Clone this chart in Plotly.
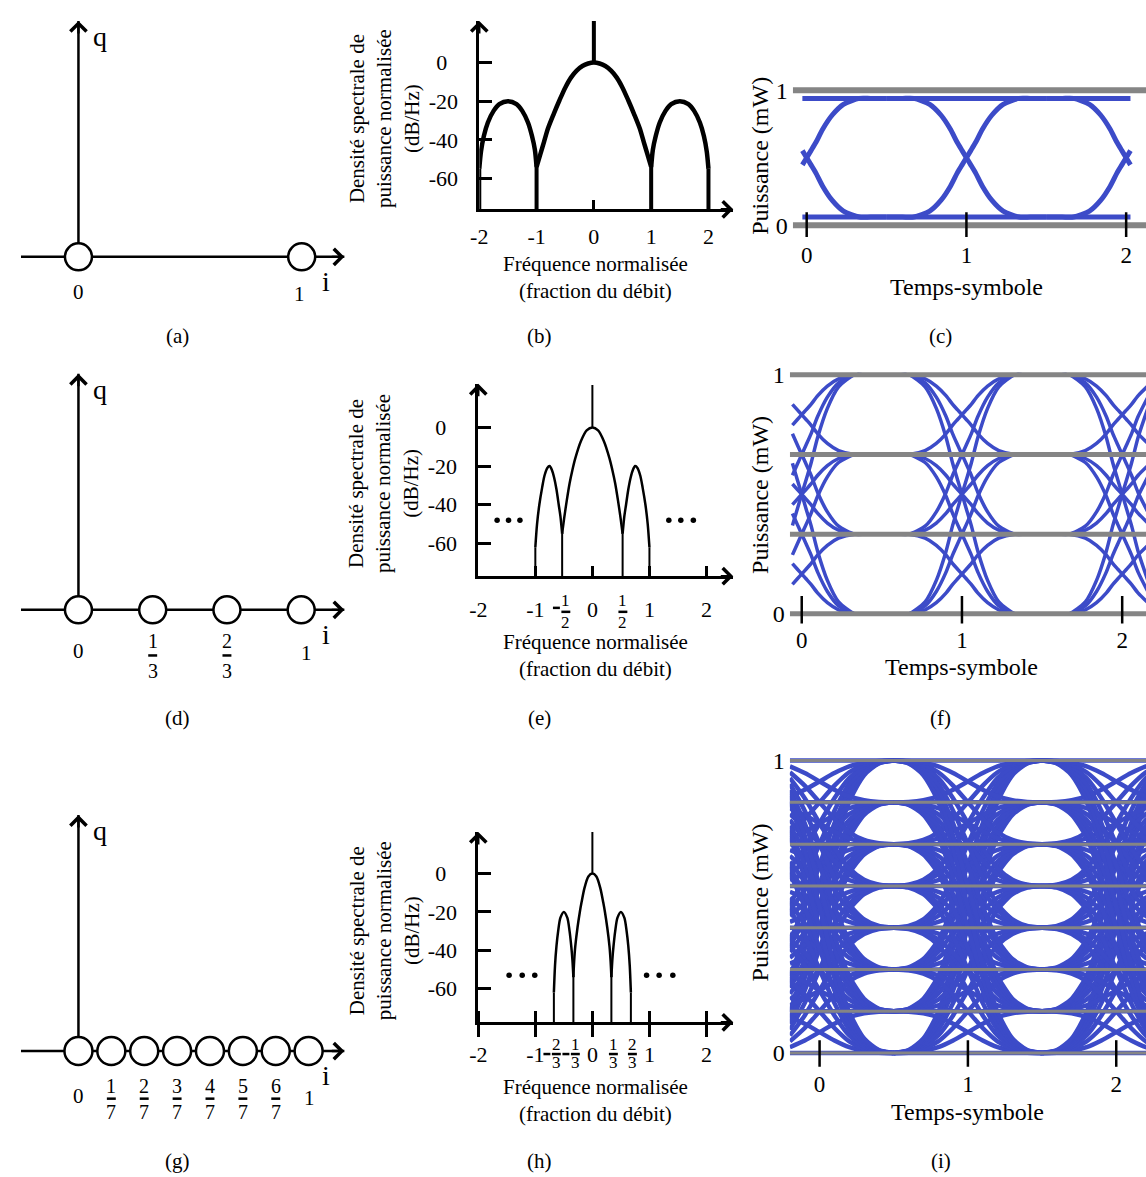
import plotly.graph_objects as go

W, H = 1146, 1177
SERIF = "Liberation Serif"
BLUE = "#3c4bc8"
GRAY = "#858585"

# ---------------- data ----------------
# constellations (i axis)
const_a = [0, 1]
const_d = [0, 1/3, 2/3, 1]
const_g = [0, 1/7, 2/7, 3/7, 4/7, 5/7, 6/7, 1]

# power spectral densities (dB): right half of main lobe and first side lobe
b_main_f = [0, 0.1, 0.2, 0.3, 0.4, 0.5, 0.6, 0.7, 0.8, 0.87, 0.93, 0.97, 1.0]
b_main_db = [0, -0.5, -1.8, -4.2, -7.8, -13, -19.5, -26.5, -34, -41, -47, -51, -54]
b_side_f = [1.0, 1.03, 1.08, 1.15, 1.25, 1.35, 1.5, 1.65, 1.75, 1.85, 1.92, 1.97, 2.0]
b_side_db = [-54, -45, -38, -31, -25, -21.5, -20, -21.5, -25, -31, -38, -46, -55]

e_main_f = [0, 0.1, 0.2, 0.3, 0.35, 0.4, 0.45, 0.49, 0.53]
e_main_db = [0, -1.5, -7, -16, -22, -29, -38, -46, -55]
e_side_f = [0.53, 0.56, 0.59, 0.63, 0.67, 0.71, 0.75, 0.79, 0.84, 0.88, 0.93, 0.97, 1.0]
e_side_db = [-55, -46, -40, -32, -26, -22, -20, -21, -25, -31, -40, -50, -62]

h_main_f = [0, 0.07, 0.14, 0.19, 0.22, 0.26, 0.3, 0.32, 0.333]
h_main_db = [0, -1.5, -7.7, -15, -20, -28, -38, -46, -54]
h_side_f = [0.333, 0.35, 0.37, 0.4, 0.44, 0.5, 0.56, 0.6, 0.63, 0.655, 0.675]
h_side_db = [-54, -45, -38, -30, -23, -20, -23, -30, -38, -48, -62]

psd_floor_db = -80
spike_db = [0, 22]
psd_ytick_vals = [0, -20, -40, -60]
psd_ytick_text = ["0\u2002", "-20", "-40", "-60"]
psd_xtick_vals = [-2, -1, 0, 1, 2]
psd_xtick_text = ["-2", "-1", "0", "1", "2"]
e_fracs = [(-1, 1, 2), (1, 1, 2)]
h_fracs = [(-1, 2, 3), (-1, 1, 3), (1, 1, 3), (1, 2, 3)]
e_dots_f = [-1.67, -1.47, -1.27, 1.34, 1.55, 1.77]
e_dots_db = -48
h_dots_f = [-1.46, -1.23, -1.01, 0.95, 1.17, 1.41]
h_dots_db = -53

# eye diagrams
eye_levels_c = [0.06, 0.94]
eye_levels_f = [0, 1/3, 2/3, 1]
eye_levels_i = [0, 1/7, 2/7, 3/7, 4/7, 5/7, 6/7, 1]
grid_c = [0, 1]
grid_f = [0, 1/3, 2/3, 1]
grid_i = [0, 1/7, 2/7, 3/7, 4/7, 5/7, 6/7, 1]
edge_u = [-0.5, -0.4, -0.33, -0.23, -0.16, -0.1, -0.058, -0.027, 0.0,
          0.027, 0.058, 0.1, 0.16, 0.23, 0.33, 0.4, 0.5]
edge_p = [0.0, 0.0, 0.0, 0.05, 0.14, 0.26, 0.37, 0.44, 0.5,
          0.56, 0.63, 0.74, 0.86, 0.95, 1.0, 1.0, 1.0]
edge_u_i = [-0.5, -0.4, -0.3, -0.2, -0.1, 0.0, 0.1, 0.2, 0.3, 0.4, 0.5]
edge_p_i = [0.0, 0.01, 0.05, 0.14, 0.3, 0.5, 0.7, 0.86, 0.95, 0.99, 1.0]
span_c = (-0.027, 2.027)
span_f = (-0.058, 2.2)
span_i = (-0.2, 2.3)
symbol_ticks = [0, 1, 2]
symbol_text = ["0", "1", "2"]

# ---------------- layout geometry (pixels) ----------------
geo = {
    1: dict(xd=(12, 345), yd=(8, 305), xm=(0, 70, 1, 295), ym=(0, 250, 1, 12)),
    2: dict(xd=(474, 730), yd=(12, 202), xm=(-2, 474, 2, 705), ym=(0, 54, -60, 171)),
    3: dict(xd=(790, 1146), yd=(76, 231), xm=(0, 804, 2, 1126), ym=(0, 218, 1, 82)),
    4: dict(xd=(12, 345), yd=(360, 690), xm=(0, 70, 1, 294.5), ym=(0, 606, 1, 368)),
    5: dict(xd=(473, 730), yd=(378, 572), xm=(-2, 473, 2, 703), ym=(0, 422, -60, 539)),
    6: dict(xd=(787, 1146), yd=(362, 622), xm=(0, 799, 2, 1122), ym=(0, 610, 1, 369)),
    7: dict(xd=(12, 345), yd=(805, 1130), xm=(0, 70, 1, 302), ym=(0, 1051, 1, 813)),
    8: dict(xd=(473, 730), yd=(830, 1022), xm=(-2, 473, 2, 703), ym=(0, 872, -60, 988)),
    9: dict(xd=(787, 1146), yd=(754, 1068), xm=(0, 817, 2, 1116), ym=(0, 1053, 1, 758)),
}


def val(m, p):
    v1, p1, v2, p2 = m
    return v1 + (p - p1) * (v2 - v1) / (p2 - p1)


def pix(m, v):
    v1, p1, v2, p2 = m
    return p1 + (v - v1) * (p2 - p1) / (v2 - v1)


def names(k):
    return ("xaxis" if k == 1 else f"xaxis{k}", "yaxis" if k == 1 else f"yaxis{k}")


def refs(k):
    return ("x" if k == 1 else f"x{k}", "y" if k == 1 else f"y{k}")


fig = go.Figure()
layout = dict(width=W, height=H, margin=dict(l=0, r=0, t=0, b=0),
              paper_bgcolor="white", plot_bgcolor="rgba(0,0,0,0)", showlegend=False)
annotations = []
shapes = []


def xrange_of(k):
    g = geo[k]
    return [val(g["xm"], g["xd"][0]), val(g["xm"], g["xd"][1])]


def yrange_of(k):
    g = geo[k]
    return [val(g["ym"], g["yd"][1]), val(g["ym"], g["yd"][0])]


def set_axes(k, xextra, yextra):
    g = geo[k]
    xn, yn = names(k)
    xr, yr = refs(k)
    layout[xn] = dict(domain=[g["xd"][0] / W, g["xd"][1] / W], range=xrange_of(k), anchor=yr,
                      showgrid=False, zeroline=False, fixedrange=True, **xextra)
    layout[yn] = dict(domain=[1 - g["yd"][1] / H, 1 - g["yd"][0] / H], range=yrange_of(k), anchor=xr,
                      showgrid=False, zeroline=False, fixedrange=True, **yextra)


def txt(px, py, s, size, angle=0):
    return dict(x=px / W, y=1 - py / H, xref="paper", yref="paper", text=s, showarrow=False,
                textangle=angle, xanchor="center", yanchor="middle",
                font=dict(family=SERIF, size=size, color="black"))


def hline(px0, px1, py, w=2.5):
    shapes.append(dict(type="line", xref="paper", yref="paper", x0=px0 / W, x1=px1 / W,
                       y0=1 - py / H, y1=1 - py / H, line=dict(color="black", width=w)))


def frac(cx, y_num, y_bar, y_den, num, den, size, neg=False, minus_y=None):
    annotations.append(txt(cx, y_num, str(num), size))
    annotations.append(txt(cx, y_den, str(den), size))
    hline(cx - 4.5, cx + 4.5, y_bar)
    if neg:
        my = y_bar if minus_y is None else minus_y
        hline(cx - 13, cx - 6, my)


def arrow(xref, yref, x, y, ax, ay):
    annotations.append(dict(x=x, y=y, xref=xref, yref=yref, ax=ax, ay=ay, axref="pixel", ayref="pixel",
                            text="", showarrow=True, arrowhead=4, arrowsize=1.3, arrowwidth=2.4,
                            arrowcolor="black", standoff=0))


# ---------------- constellations ----------------
def constellation(k, pts, off_int, off_num, off_bar, off_den, one_dx, msize):
    g = geo[k]
    xr, yr = refs(k)
    set_axes(k, dict(visible=False), dict(visible=False))
    x0 = xrange_of(k)[0]
    xtip = val(g["xm"], 338)
    fig.add_trace(go.Scatter(x=[x0, xtip, None, 0, 0], y=[0, 0, None, 0, 1], mode="lines",
                             line=dict(color="black", width=2.5), xaxis=xr, yaxis=yr, hoverinfo="skip"))
    fig.add_trace(go.Scatter(x=pts, y=[0] * len(pts), mode="markers",
                             marker=dict(symbol="circle", size=msize, color="white",
                                         line=dict(color="black", width=2.5)),
                             xaxis=xr, yaxis=yr, hoverinfo="skip"))
    arrow(xr, yr, xtip, 0, -14, 0)
    arrow(xr, yr, 0, 1, 0, 14)
    py0 = pix(g["ym"], 0)
    pytip = pix(g["ym"], 1)
    annotations.append(txt(pix(g["xm"], 0) + 22, pytip + 16, "q", 28))
    annotations.append(txt(320, py0 + 25, "i", 28))
    n = len(pts) - 1
    for j, v in enumerate(pts):
        cx = pix(g["xm"], v)
        if j == 0:
            annotations.append(txt(cx, py0 + off_int, "0", 21))
        elif j == n:
            annotations.append(txt(cx + one_dx, py0 + off_int + 2, "1", 21))
        else:
            frac(cx, py0 + off_num, py0 + off_bar, py0 + off_den, j, n, 20)


constellation(1, const_a, 35, 0, 0, 0, -2, 27)
constellation(4, const_d, 42, 31, 46, 62, 5, 27)
constellation(7, const_g, 45, 35, 48, 61, 1, 28)


# ---------------- PSD panels ----------------
def psd(k, main_f, main_db, side_f, side_db, lw, sw, cross, standoff, title_off, fracs=None, dots_f=None,
        dots_db=None, frac_rows=None, frac_minus_y=None):
    g = geo[k]
    xr, yr = refs(k)
    xextra = dict(showline=True, linecolor="black", linewidth=2.5, tickmode="array",
                  tickvals=psd_xtick_vals, ticktext=psd_xtick_text, ticks="outside" if cross else "inside",
                  ticklen=12 if cross else 10, tickwidth=2.5, tickcolor="black",
                  tickfont=dict(family=SERIF, size=22, color="black"), ticklabelstandoff=standoff)
    if cross:
        xextra["minor"] = dict(ticks="inside", ticklen=12, tickwidth=2.5, tickcolor="black",
                               tickmode="array", tickvals=psd_xtick_vals)
    yextra = dict(showline=True, linecolor="black", linewidth=2.5, tickmode="array",
                  tickvals=psd_ytick_vals, ticktext=psd_ytick_text, ticks="inside", ticklen=13,
                  tickwidth=2.5, tickcolor="black", tickfont=dict(family=SERIF, size=22, color="black"),
                  ticklabelstandoff=14)
    set_axes(k, xextra, yextra)
    mf = [-v for v in main_f[::-1]] + main_f[1:]
    mdb = main_db[::-1] + main_db[1:]
    lf = [-v for v in side_f[::-1]]
    ldb = side_db[::-1]
    xs = lf + [None] + mf + [None] + side_f
    ys = ldb + [None] + mdb + [None] + side_db
    fig.add_trace(go.Scatter(x=xs, y=ys, mode="lines", line=dict(color="black", width=lw, shape="spline",
                                                                  smoothing=0.8),
                             xaxis=xr, yaxis=yr, hoverinfo="skip"))
    dx, dy = [], []
    for f, d in [(main_f[-1], main_db[-1]), (side_f[-1], side_db[-1])]:
        for s in (-1, 1):
            dx += [s * f, s * f, None]
            dy += [d, psd_floor_db, None]
    dx += [0, 0]
    dy += spike_db
    fig.add_trace(go.Scatter(x=dx, y=dy, mode="lines", line=dict(color="black", width=sw),
                             xaxis=xr, yaxis=yr, hoverinfo="skip"))
    if dots_f:
        fig.add_trace(go.Scatter(x=dots_f, y=[dots_db] * len(dots_f), mode="markers",
                                 marker=dict(color="black", size=5.5), xaxis=xr, yaxis=yr, hoverinfo="skip"))
    # axis arrows
    arrow(xr + " domain", yr + " domain", 1, 0, -14, 0)
    arrow(xr + " domain", yr + " domain", 0, 1, 0, 14)
    if fracs:
        yn, yb, yd = frac_rows
        for sgn, num, den in fracs:
            cx = pix(g["xm"], sgn * num / den) + 2
            frac(cx, yn, yb, yd, num, den, 17, neg=sgn < 0, minus_y=frac_minus_y)
    # titles
    yax = g["yd"][1]
    annotations.append(txt(378, (g["yd"][0] + g["yd"][1]) / 2 + 4,
                           "Densité spectrale de<br>puissance normalisée<br>(dB/Hz)", 21, -90))
    annotations.append(txt(591, yax + title_off, "Fréquence normalisée<br>(fraction du débit)", 21))


psd(2, b_main_f, b_main_db, b_side_f, b_side_db, 4.5, 4, False, 6, 69)
psd(5, e_main_f, e_main_db, e_side_f, e_side_db, 2.5, 2, False, 12, 80, fracs=e_fracs, dots_f=e_dots_f,
    dots_db=e_dots_db, frac_rows=(597, 608, 619), frac_minus_y=604)
psd(8, h_main_f, h_main_db, h_side_f, h_side_db, 2.5, 2, True, -1, 79, fracs=h_fracs, dots_f=h_dots_f,
    dots_db=h_dots_db, frac_rows=(1044, 1054, 1063))


# ---------------- eye diagrams ----------------
def eye(k, levels, grid, u, p, span, lw, gw, tick_lo, tick_hi, title_y, ylab_y, lab_standoff):
    g = geo[k]
    xr, yr = refs(k)
    xextra = dict(tickmode="array", tickvals=symbol_ticks, ticktext=symbol_text, ticks="", showline=False,
                  tickfont=dict(family=SERIF, size=23, color="black"), ticklabelstandoff=lab_standoff)
    yextra = dict(tickmode="array", tickvals=[0, 1], ticktext=["0", "1"], ticks="", showline=False,
                  tickfont=dict(family=SERIF, size=24, color="black"), ticklabelstandoff=4)
    set_axes(k, xextra, yextra)
    xs, ys = [], []
    for n in symbol_ticks:
        for a in levels:
            for b in levels:
                for uu, pp in zip(u, p):
                    t = n + uu
                    if span[0] <= t <= span[1]:
                        xs.append(t)
                        ys.append(a + (b - a) * pp)
                xs.append(None)
                ys.append(None)
    fig.add_trace(go.Scatter(x=xs, y=ys, mode="lines", line=dict(color=BLUE, width=lw, shape="spline",
                                                                  smoothing=0.7),
                             xaxis=xr, yaxis=yr, hoverinfo="skip"))
    xrng = xrange_of(k)
    gx, gy = [], []
    for lv in grid:
        gx += [xrng[0], xrng[1], None]
        gy += [lv, lv, None]
    fig.add_trace(go.Scatter(x=gx, y=gy, mode="lines", line=dict(color=GRAY, width=gw),
                             xaxis=xr, yaxis=yr, hoverinfo="skip"))
    tx, ty = [], []
    for n in symbol_ticks:
        tx += [n, n, None]
        ty += [tick_lo, tick_hi, None]
    fig.add_trace(go.Scatter(x=tx, y=ty, mode="lines", line=dict(color="black", width=2.5),
                             xaxis=xr, yaxis=yr, hoverinfo="skip"))
    annotations.append(txt(757, ylab_y, "Puissance (mW)", 24, -90))
    annotations.append(txt(pix(g["xm"], 1), title_y, "Temps-symbole", 24))


eye(3, eye_levels_c, grid_c, edge_u, edge_p, span_c, 5, 6, -0.088, 0.096, 280, 148, 1)
eye(6, eye_levels_f, grid_f, edge_u, edge_p, span_f, 3.5, 5, -0.041, 0.075, 664, 490, -2)
eye(9, eye_levels_i, grid_i, edge_u_i, edge_p_i, span_i, 4.5, 3, -0.047, 0.044, 1112, 901, 0)

# ---------------- panel captions ----------------
for lab, px, py in [("(a)", 170, 330), ("(b)", 535, 330), ("(c)", 939, 330),
                    ("(d)", 170, 715), ("(e)", 535, 715), ("(f)", 939, 715),
                    ("(g)", 170, 1162), ("(h)", 535, 1162), ("(i)", 939, 1162)]:
    annotations.append(txt(px, py, lab, 21))

layout["annotations"] = annotations
layout["shapes"] = shapes
fig.update_layout(**layout)
fig.write_html("out.html", config={"displayModeBar": False},
               post_script="document.body.style.margin='0px';document.body.style.overflow='hidden';")
